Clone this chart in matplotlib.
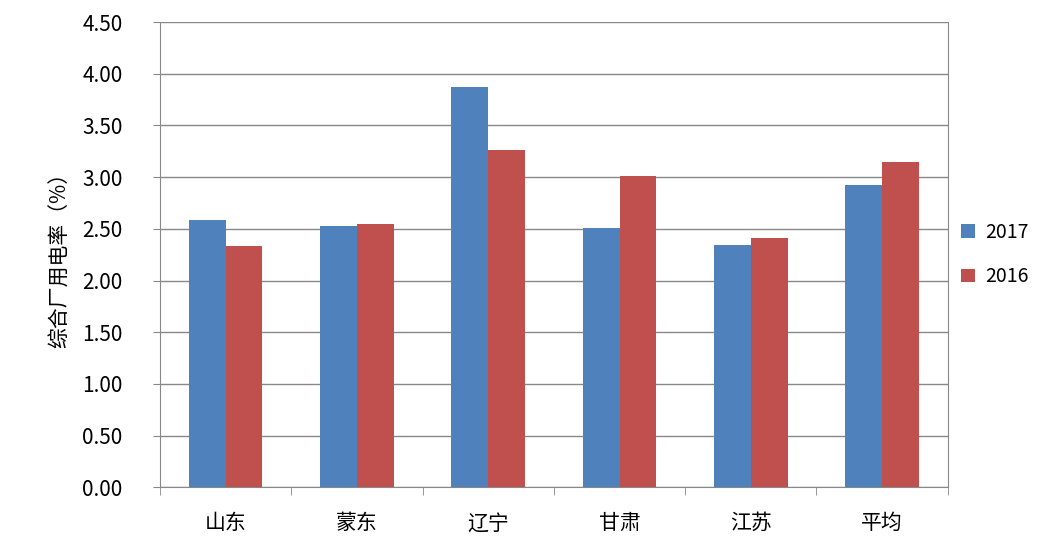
import matplotlib.pyplot as plt
import numpy as np

plt.rcParams['font.family'] = ['Noto Sans CJK SC', 'DejaVu Sans']

regions = ['山东', '蒙东', '辽宁', '甘肃', '江苏', '平均']
v2017 = [2.59, 2.53, 3.87, 2.51, 2.34, 2.92]
v2016 = [2.33, 2.55, 3.26, 3.01, 2.41, 3.15]
yticks = np.arange(0, 4.51, 0.5)

fig = plt.figure(figsize=(10.49, 5.39), dpi=100)
ax = fig.add_axes([0.1525, 0.096, 0.751, 0.863])

x = np.arange(len(regions))
w = 0.28
ax.bar(x - w / 2, v2017, w, color='#4F81BD', label='2017', zorder=3)
ax.bar(x + w / 2, v2016, w, color='#C0504D', label='2016', zorder=3)

ax.set_xlim(-0.5, len(regions) - 0.5)
ax.set_ylim(0, 4.5)
ax.set_yticks(yticks)
ax.set_yticklabels([f'{v:.2f}' for v in yticks], fontsize=15)
ax.set_xticks(x)
ax.set_xticklabels(regions, fontsize=15)
ax.set_xticks(np.arange(-0.5, len(regions)), minor=True)
ax.tick_params(axis='x', which='major', length=0, pad=18)
ax.tick_params(axis='x', which='minor', length=6, color='#888888')
ax.tick_params(axis='y', length=5, color='#888888', pad=22)
ax.grid(axis='y', color='#888888', linewidth=1, zorder=0)
ax.spines['top'].set_visible(False)
for s in ['left', 'bottom', 'right']:
    ax.spines[s].set_color('#888888')
ax.set_ylabel('综合厂用电率（%）', fontsize=15, labelpad=8)

ax.legend(loc='center left', bbox_to_anchor=(1.0, 0.5), frameon=False,
          fontsize=14, handlelength=0.7, handleheight=0.7, labelspacing=1.2,
          handletextpad=0.5, borderaxespad=0.3)

fig.savefig('out.png')
